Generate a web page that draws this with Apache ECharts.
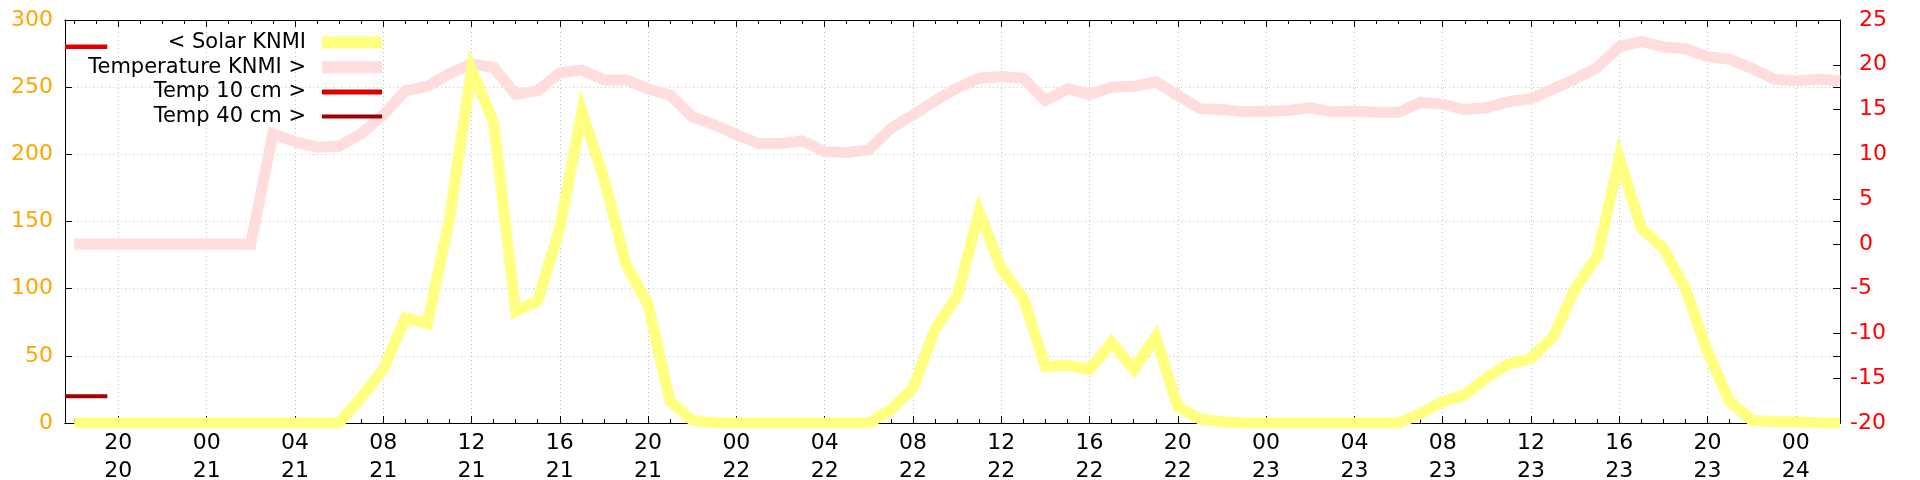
<!DOCTYPE html>
<html><head><meta charset="utf-8">
<script src="https://cdn.jsdelivr.net/npm/echarts@6/dist/echarts.min.js"></script>
<style>html,body{margin:0;padding:0;background:#fff}#c{width:1920px;height:480px}</style>
</head><body><div id="c"></div>
<script>
// x values: hours counted from 00:00 on day 20
const hours = [18,19,20,21,22,23,24,25,26,27,28,29,30,31,32,33,34,35,36,37,38,39,40,41,42,43,44,45,46,47,48,49,50,51,52,53,54,55,56,57,58,59,60,61,62,63,64,65,66,67,68,69,70,71,72,73,74,75,76,77,78,79,80,81,82,83,84,85,86,87,88,89,90,91,92,93,94,95,96,97,98];
const solar = [0,0,0,0,0,0,0,0,0,0,0,0,0,
  19,40,78,74,152,263,224,83,91,145,232,182,118,88,16,2,
  0,0,0,0,0,0,0,0,
  10,26,70,94,157,115,93,42,43,40,60,40,64,12,3,1,
  0,0,0,0,0,0,0,0,
  7,16,21,34,44,48,64,100,124,197,145,130,100,53,16,2,1,1,0,0];
const temperature = [0,0,0,0,0,0,0,0,0,
  12.3,11.4,10.8,10.9,12.3,14.4,17.1,17.6,19.0,20.1,19.7,16.7,17.1,19.1,19.4,18.3,18.3,17.3,16.6,14.2,13.3,12.2,
  11.2,11.2,11.5,10.3,10.2,10.5,12.9,14.4,16.0,17.4,18.5,18.7,18.5,16.0,17.3,16.7,17.5,17.6,18.1,16.6,15.1,15.0,
  14.75,14.8,14.9,15.2,14.75,14.8,14.7,14.7,15.8,15.6,15.0,15.2,15.9,16.2,17.3,18.4,19.7,22.0,22.6,22.0,21.8,20.9,20.6,19.6,18.4,18.2,18.4,18.2];
const soilHours = [17.5833, 19.5];
const temp10 = [22.0, 22.0];
const temp40 = [-17.0, -17.0];
const xTickHours = [20,24,28,32,36,40,44,48,52,56,60,64,68,72,76,80,84,88,92,96];
const leftTicks = [0,50,100,150,200,250,300];
const rightTicks = [-20,-15,-10,-5,0,5,10,15,20,25];
const seriesNames = ['< Solar KNMI','Temperature KNMI >','Temp 10 cm >','Temp 40 cm >'];

const font = 'DejaVu Sans';
const gridColor = '#c4c4c4';
const xMin = 17.5833, xMax = 98;
const pairs = (xs, ys) => xs.map((x, i) => [x, ys[i]]);
const pad2 = n => (n < 10 ? '0' : '') + n;

const baseX = {
  type: 'value', min: xMin, max: xMax, gridIndex: 0,
  axisLine: {show: true, onZero: false, lineStyle: {color: '#000', width: 1}},
  axisLabel: {show: false}, splitLine: {show: false}, axisTick: {show: false}
};
const tick = (vals, len) => ({show: true, inside: true, length: len, customValues: vals, lineStyle: {color: '#000', width: 1}});

const chart = echarts.init(document.getElementById('c'), null, {renderer: 'canvas'});
chart.setOption({
  animation: false,
  backgroundColor: '#fff',
  grid: {left: 65, right: 80, top: 20, bottom: 57, containLabel: false, outerBoundsMode: 'none'},
  legend: {
    orient: 'vertical', align: 'right', right: 1538, top: 30.5, padding: 0,
    itemGap: 0.7, itemWidth: 60, itemHeight: 14, selectedMode: false,
    itemStyle: {borderWidth: 0},
    textStyle: {fontFamily: font, fontSize: 21, color: '#000', lineHeight: 24, padding: [0, 11, 0, 0]},
    data: [
      {name: seriesNames[0], icon: 'path://M0,0H60V12H0Z'},
      {name: seriesNames[1], icon: 'path://M0,0H60V12H0Z'},
      {name: seriesNames[2], icon: 'path://M0,0H60V5H0Z'},
      {name: seriesNames[3], icon: 'path://M0,0H60V4H0Z'}
    ]
  },
  xAxis: [
    Object.assign({}, baseX, {
      position: 'bottom',
      axisTick: tick(xTickHours, 7),
      axisLabel: {show: true, customValues: xTickHours, color: '#000', fontFamily: font, fontSize: 22, lineHeight: 28, margin: 6,
        formatter: v => pad2(Math.round(v) % 24) + '\n' + (20 + Math.floor(Math.round(v) / 24))},
      splitLine: {show: true, lineStyle: {color: gridColor, width: 1, type: [1, 3]}}
    }),
    Object.assign({}, baseX, {position: 'bottom', axisTick: tick(hours, 4)}),
    Object.assign({}, baseX, {position: 'top', axisTick: tick(xTickHours, 7)}),
    Object.assign({}, baseX, {position: 'top', axisTick: tick(hours, 4)})
  ],
  yAxis: [
    {
      type: 'value', position: 'left', min: leftTicks[0], max: leftTicks[leftTicks.length - 1], interval: 50,
      axisLine: {show: true, lineStyle: {color: '#000', width: 1}},
      axisTick: {show: true, inside: true, length: 7, lineStyle: {color: '#000'}},
      axisLabel: {show: true, color: '#ffa500', fontFamily: font, fontSize: 22, margin: 12},
      splitLine: {show: true, lineStyle: {color: gridColor, width: 1, type: [1, 3]}}
    },
    {
      type: 'value', position: 'right', min: rightTicks[0], max: rightTicks[rightTicks.length - 1], interval: 5,
      axisLine: {show: true, lineStyle: {color: '#000', width: 1}},
      axisTick: {show: true, inside: true, length: 7, lineStyle: {color: '#000'}},
      axisLabel: {show: true, color: '#ff0000', fontFamily: font, fontSize: 22, margin: 10, align: 'left',
        formatter: v => v < 0 ? String(v) : '{p|' + v + '}',
        rich: {p: {padding: [0, 0, 0, 9], color: '#ff0000', fontFamily: font, fontSize: 22}}},
      splitLine: {show: false}
    },
    {
      type: 'value', position: 'right', min: 0, max: 300, interval: 50,
      axisLine: {show: false},
      axisTick: {show: true, inside: true, length: 7, lineStyle: {color: '#000'}},
      axisLabel: {show: false}, splitLine: {show: false}
    }
  ],
  series: [
    {name: seriesNames[1], type: 'line', xAxisIndex: 0, yAxisIndex: 1, data: pairs(hours, temperature), symbol: 'none',
      color: '#ffdddd', lineStyle: {color: '#ffdddd', width: 11, join: 'miter', cap: 'butt'}, z: 2},
    {name: seriesNames[0], type: 'line', xAxisIndex: 0, yAxisIndex: 0, data: pairs(hours, solar), symbol: 'none',
      color: '#ffff80', lineStyle: {color: '#ffff80', width: 11, join: 'miter', cap: 'butt'}, z: 3},
    {name: seriesNames[2], type: 'line', xAxisIndex: 0, yAxisIndex: 1, data: pairs(soilHours, temp10), symbol: 'none',
      color: '#e00000', lineStyle: {color: '#e00000', width: 4.5, cap: 'butt'}, z: 4},
    {name: seriesNames[3], type: 'line', xAxisIndex: 0, yAxisIndex: 1, data: pairs(soilHours, temp40), symbol: 'none',
      color: '#a00000', lineStyle: {color: '#a00000', width: 4, cap: 'butt'}, z: 4}
  ]
});
</script></body></html>
